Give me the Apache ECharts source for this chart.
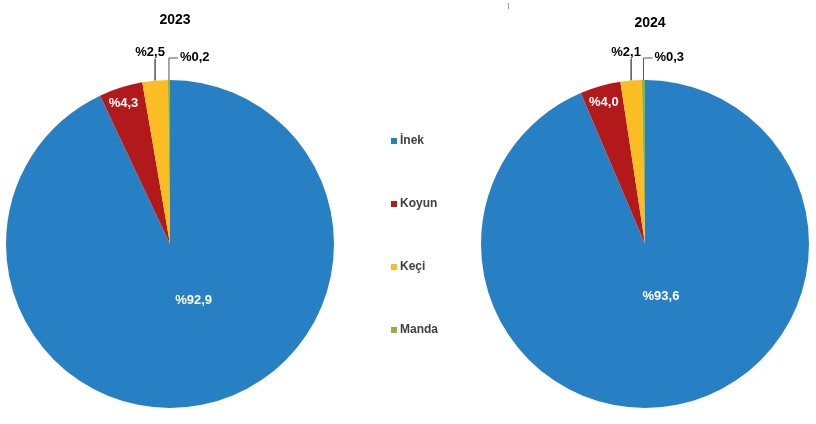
<!DOCTYPE html>
<html><head><meta charset="utf-8">
<script src="https://cdn.jsdelivr.net/npm/echarts@6/dist/echarts.min.js"></script>
<style>html,body{margin:0;padding:0;background:#fff}#c{width:816px;height:424px}</style>
</head><body><div id="c"></div>
<script>
const categories = ['İnek', 'Koyun', 'Keçi', 'Manda'];
const years = ['2023', '2024'];
const values2023 = [92.9, 4.3, 2.5, 0.2];
const values2024 = [93.6, 4.0, 2.1, 0.3];
const colors = ['#2880C4', '#B2191B', '#FBBD23', '#8DB53A'];

const centers = [[170, 244], [645, 244]];
const R = 164;
// inside label offsets from the library's default inner position
const insideOffsets = [
  [[5, -27], [-21, -60]],
  [[-1, -31], [-18, -60]]
];

const chart = echarts.init(document.getElementById('c'));
const fmt = p => '%' + p.value.toFixed(1).replace('.', ',');

function labelLayout(p) {
  const i = p.dataIndex, s = p.seriesIndex;
  if (i >= 2) {
    const pts = p.labelLinePoints;
    if (!pts) return {};
    const x0 = pts[0][0], y0 = pts[0][1];
    if (i === 2) {
      return { x: x0 - 5, y: y0 - 22, align: 'center', verticalAlign: 'bottom',
        labelLinePoints: [[x0, y0], [x0, y0 - 22], [x0, y0 - 22]] };
    }
    return { x: x0 + 11, y: y0 - 23, align: 'left', verticalAlign: 'middle',
      labelLinePoints: [[x0, y0], [x0, y0 - 22], [x0 + 9, y0 - 22]] };
  }
  const o = insideOffsets[s][i];
  return { dx: o[0], dy: o[1] };
}

function makeSeries(vals, idx) {
  return {
    type: 'pie',
    center: centers[idx],
    radius: R,
    startAngle: 90,
    clockwise: true,
    avoidLabelOverlap: false,
    animation: false,
    itemStyle: { borderWidth: 0 },
    labelLayout: labelLayout,
    data: categories.map((c, i) => ({
      name: c,
      value: vals[i],
      itemStyle: { color: colors[i] },
      label: i < 2 ? {
        show: true, position: 'inside', formatter: fmt,
        color: '#fff', fontWeight: 'bold', fontSize: 13, fontFamily: 'Liberation Sans, Arial, sans-serif'
      } : {
        show: true, position: 'outside', formatter: fmt,
        color: '#000', fontWeight: 'bold', fontSize: 13, fontFamily: 'Liberation Sans, Arial, sans-serif'
      },
      labelLine: i < 2 ? { show: false } : {
        show: true, length: 20, length2: 5,
        lineStyle: { color: i === 2 ? '#000' : '#555', width: 1 }
      }
    }))
  };
}

chart.setOption({
  animation: false,
  title: years.map((y, i) => ({
    text: y,
    left: centers[i][0],
    top: i === 0 ? 8 : 11,
    textAlign: 'center',
    textStyle: { fontSize: 14, fontWeight: 'bold', color: '#000', fontFamily: 'Liberation Sans, Arial, sans-serif' }
  })),
  legend: {
    orient: 'vertical',
    left: 386,
    top: 130,
    itemWidth: 6,
    itemHeight: 6,
    itemGap: 51,
    icon: 'rect',
    data: categories,
    textStyle: { fontSize: 12, fontWeight: 'bold', color: '#404040', fontFamily: 'Liberation Sans, Arial, sans-serif', padding: [0, 0, 0, -2] }
  },
  graphic: [{
    type: 'line', shape: { x1: 508.5, y1: 3, x2: 508.5, y2: 9 },
    style: { stroke: '#999', lineWidth: 1 }
  }],
  series: [makeSeries(values2023, 0), makeSeries(values2024, 1)]
});
</script></body></html>
